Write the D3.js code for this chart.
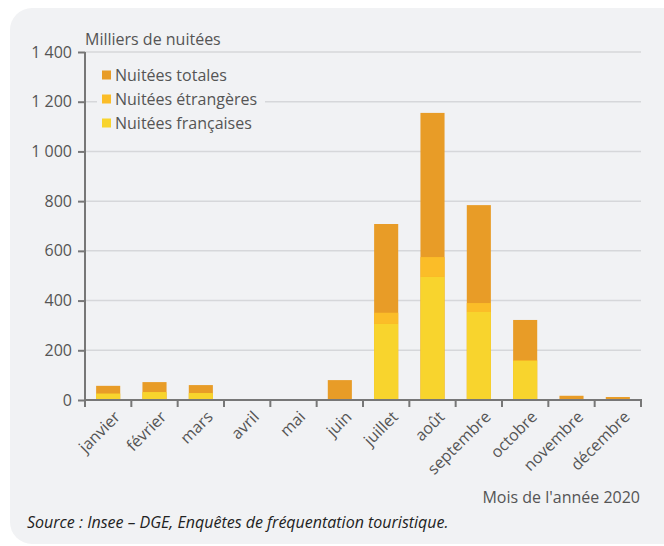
<!DOCTYPE html>
<html><head><meta charset="utf-8">
<script src="https://cdn.jsdelivr.net/npm/d3@7"></script>
<style>
html,body{margin:0;padding:0;background:#fff;}
svg text{font-family:"Open Sans",sans-serif;}
</style></head>
<body>
<svg id="c" width="664" height="546"></svg>
<script>
const months = ["janvier","février","mars","avril","mai","juin","juillet","août","septembre","octobre","novembre","décembre"];
const totales = [57, 72, 60, 1, 4, 80, 708, 1155, 784, 322, 17, 12];
const francaises = [26, 32, 28, 0, 0, 0, 306, 495, 354, 157, 0, 0];
const etrangeres = [0, 0, 0, 0, 0, 0, 45, 80, 36, 3, 0, 0];
const yTicks = [0, 200, 400, 600, 800, 1000, 1200, 1400];
const legendLabels = ["Nuitées totales", "Nuitées étrangères", "Nuitées françaises"];
const colors = ["#e89c27", "#fbbd28", "#f8d42d"];

const svg = d3.select("#c");
svg.append("rect").attr("x", 10).attr("y", 8).attr("width", 680).attr("height", 536).attr("rx", 22).attr("fill", "#f1f2f4");

const x = d3.scaleBand().domain(months).range([85, 641]).paddingInner(0.48).paddingOuter(0.24);
const xb = d3.scaleBand().domain(months).range([85, 641]);
const y = d3.scaleLinear().domain([0, 1400]).range([400, 52]);

// grid
svg.append("g").selectAll("line").data(yTicks.slice(1)).join("line")
  .attr("x1", 85).attr("x2", 641).attr("y1", d => y(d)).attr("y2", d => y(d))
  .attr("stroke", "#d6d7da").attr("stroke-width", 1.5);

// bars
const g = svg.append("g");
g.selectAll(".tot").data(months).join("rect")
  .attr("x", d => x(d)).attr("width", x.bandwidth())
  .attr("y", (d, i) => y(totales[i])).attr("height", (d, i) => y(0) - y(totales[i]))
  .attr("fill", colors[0]);
g.selectAll(".etr").data(months).join("rect")
  .attr("x", d => x(d)).attr("width", x.bandwidth())
  .attr("y", (d, i) => y(francaises[i] + etrangeres[i])).attr("height", (d, i) => y(francaises[i]) - y(francaises[i] + etrangeres[i]))
  .attr("fill", colors[1]);
g.selectAll(".fr").data(months).join("rect")
  .attr("x", d => x(d)).attr("width", x.bandwidth())
  .attr("y", (d, i) => y(francaises[i])).attr("height", (d, i) => y(0) - y(francaises[i]))
  .attr("fill", colors[2]);

// y axis
const fmt = d => d3.format(",")(d).replace(/,/g, " ");
const ya = svg.append("g").attr("transform", "translate(85,0)")
  .call(d3.axisLeft(y).tickValues(yTicks).tickFormat(fmt).tickSize(7).tickPadding(6));
ya.select(".domain").attr("stroke", "#777").attr("stroke-width", 2).attr("d", "M0,52V400");
ya.selectAll(".tick line").attr("stroke", "#777").attr("stroke-width", 2);
ya.selectAll(".tick text").attr("fill", "#555").style("font-size", "16px").style("font-family", "Open Sans");

// x axis
const xa = svg.append("g").attr("transform", "translate(0,400)");
xa.append("line").attr("x1", 84).attr("x2", 642).attr("y1", 0).attr("y2", 0).attr("stroke", "#777").attr("stroke-width", 2);
xa.selectAll(".tk").data(months.concat(["end"])).join("line")
  .attr("x1", (d, i) => i < 12 ? xb(d) : 641).attr("x2", (d, i) => i < 12 ? xb(d) : 641)
  .attr("y1", 0).attr("y2", 7).attr("stroke", "#777").attr("stroke-width", 2);
xa.selectAll(".lbl").data(months).join("text")
  .attr("transform", d => `translate(${x(d) + x.bandwidth() / 2 + 9},14) rotate(-45)`)
  .attr("text-anchor", "end").attr("dy", "0.35em")
  .attr("fill", "#555").style("font-size", "16px").text(d => d);

// legend
const lg = svg.append("g");
lg.append("rect").attr("x", 97).attr("y", 62).attr("width", 168).attr("height", 74).attr("fill", "#f1f2f4");
legendLabels.forEach((t, i) => {
  const cy = 75 + i * 24;
  lg.append("rect").attr("x", 102).attr("y", cy - 4.5).attr("width", 9).attr("height", 9).attr("fill", colors[i]);
  lg.append("text").attr("x", 115).attr("y", cy).attr("dy", "0.35em").attr("fill", "#555").style("font-size", "16px").text(t);
});

// titles
svg.append("text").attr("x", 85).attr("y", 45).attr("fill", "#555").style("font-size", "16px").text("Milliers de nuitées");
svg.append("text").attr("x", 640).attr("y", 503).attr("text-anchor", "end").attr("fill", "#555").style("font-size", "16px").text("Mois de l'année 2020");
svg.append("text").attr("x", 27).attr("y", 528).attr("fill", "#222").style("font-size", "16px").style("font-style", "italic").text("Source : Insee – DGE, Enquêtes de fréquentation touristique.");
</script>
</body></html>
